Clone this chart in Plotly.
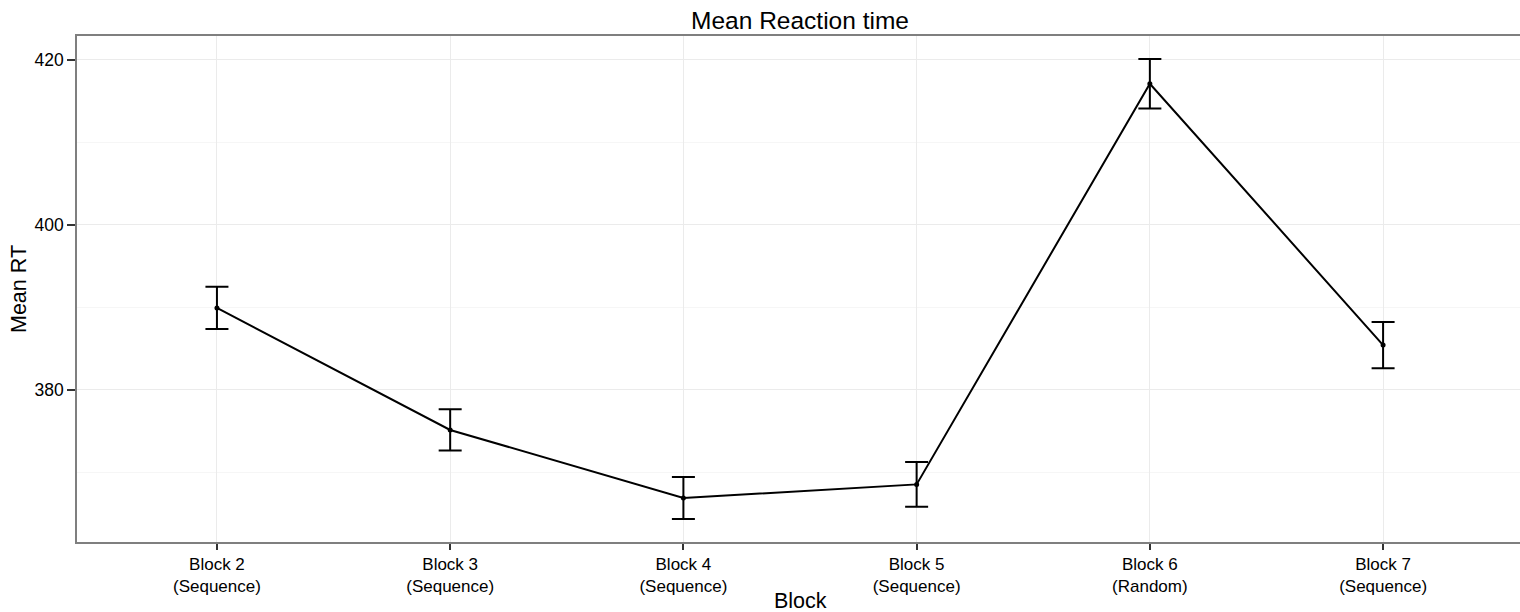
import plotly.graph_objects as go

# ---- data ----
blocks = ["Block 2", "Block 3", "Block 4", "Block 5", "Block 6", "Block 7"]
conditions = ["Sequence", "Sequence", "Sequence", "Sequence", "Random", "Sequence"]
mean_rt = [389.9, 375.1, 366.85, 368.5, 417.1, 385.4]
se_rt = [2.56, 2.5, 2.55, 2.7, 3.0, 2.8]
y_ticks = [380, 400, 420]

tick_text = [f"{b}<br>({c})" for b, c in zip(blocks, conditions)]

# ggplot-like 5% expansion on the y scale
lo = min(m - s for m, s in zip(mean_rt, se_rt))
hi = max(m + s for m, s in zip(mean_rt, se_rt))
pad = (hi - lo) * 0.05

FONT = "Liberation Sans, Arial, Helvetica, sans-serif"

fig = go.Figure()
fig.add_trace(go.Scatter(
    x=blocks, y=mean_rt,
    mode="lines+markers",
    line=dict(color="black", width=2),
    marker=dict(color="black", size=5),
    error_y=dict(type="data", array=se_rt, visible=True,
                 color="black", thickness=2, width=11.5),
    showlegend=False,
))

fig.update_layout(
    width=1520, height=612,
    autosize=False,
    margin=dict(l=77, r=0, t=36, b=70, autoexpand=False),
    paper_bgcolor="white",
    plot_bgcolor="white",
    font=dict(family=FONT, color="black"),
    title=dict(text="Mean Reaction time", x=800 / 1520, xanchor="center",
               xref="container", yref="container", y=1 - 20 / 612,
               yanchor="middle", font=dict(size=24.5, color="black")),
)

fig.add_annotation(
    text="Block", xref="paper", yref="paper",
    x=(800 - 77) / (1520 - 77), y=0, xanchor="center", yanchor="top",
    yshift=-45, showarrow=False, font=dict(size=21.5, color="black"),
)

fig.update_xaxes(
    type="category",
    categoryorder="array", categoryarray=blocks,
    range=[-0.6, 5.587],
    tickmode="array", tickvals=blocks, ticktext=tick_text,
    tickfont=dict(size=17, color="black"),
    ticks="outside", ticklen=6, tickcolor="#333333", tickwidth=1.5,
    showgrid=True, gridcolor="#ebebeb", gridwidth=1,
    showline=True, linecolor="#7f7f7f", linewidth=1.5, mirror=True,
    zeroline=False, automargin=False,
)

fig.update_yaxes(
    range=[lo - pad, hi + pad],
    tickmode="array", tickvals=y_ticks,
    tickfont=dict(size=17.5, color="black"),
    ticks="outside", ticklen=8, tickcolor="#333333", tickwidth=1.5,
    showgrid=True, gridcolor="#ebebeb", gridwidth=1,
    minor=dict(dtick=10, tick0=0, showgrid=True, gridcolor="#f6f6f6", gridwidth=1, ticks=""),
    showline=True, linecolor="#7f7f7f", linewidth=1.5, mirror=False,
    zeroline=False, automargin=False,
    title=dict(text="Mean RT", font=dict(size=21.5, color="black"), standoff=2),
)

fig.write_html(
    "out.html",
    config={"displayModeBar": False},
    post_script="document.body.style.margin='0';document.body.style.overflow='hidden';",
)
